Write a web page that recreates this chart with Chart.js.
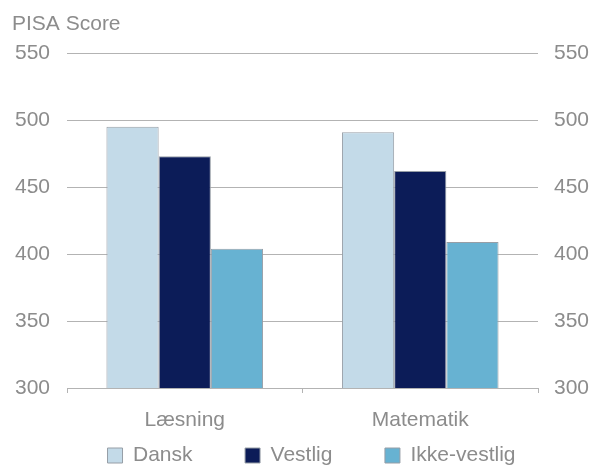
<!DOCTYPE html>
<html>
<head>
<meta charset="utf-8">
<script src="https://cdn.jsdelivr.net/npm/chart.js@4/dist/chart.umd.min.js"></script>
<style>
  html, body { margin: 0; padding: 0; background: #fff; }
  #wrap { width: 592px; height: 466px; }
</style>
</head>
<body>
<div id="wrap"><canvas id="pisaChart"></canvas></div>
<script>
const categories = ['Læsning', 'Matematik']
const dansk = [495, 491]
const vestlig = [473, 462]
const ikkeVestlig = [404, 409]
const tickValues = [300, 350, 400, 450, 500, 550]

const grey = '#8c8c8c'
const lineGrey = '#b3b3b3'
const font = { family: 'Liberation Sans, Arial, sans-serif', size: 21, weight: 'normal' }

// legend spacing done with trailing spaces, the label padding also acts vertically
const gap = '         '

const ctx = document.getElementById('pisaChart').getContext('2d')
const pisaChart = new Chart(ctx, {
    type: 'bar',
    data: {
        labels: categories,
        datasets: [
            { label: 'Dansk', data: dansk, backgroundColor: '#c3dae8', borderColor: '#979ea6', borderWidth: 1 },
            { label: 'Vestlig', data: vestlig, backgroundColor: '#0c1c58', borderColor: '#979ea6', borderWidth: 1 },
            { label: 'Ikke-vestlig', data: ikkeVestlig, backgroundColor: '#67b2d2', borderColor: '#979ea6', borderWidth: 1 }
        ]
    },
    options: {
        responsive: true,
        maintainAspectRatio: false,
        animation: false,
        // right padding negative so the legend row sits a bit right of centre
        layout: { padding: { left: 12, right: -19, top: 0, bottom: -10 } },
        datasets: { bar: { categoryPercentage: 0.665, barPercentage: 1.0 } },
        plugins: {
            title: {
                display: true,
                text: 'PISA Score',
                align: 'start',
                color: grey,
                font: font,
                padding: { top: 12, bottom: 16 }
            },
            legend: {
                position: 'bottom',
                labels: {
                    color: grey,
                    font: font,
                    boxWidth: 15,
                    boxHeight: 15,
                    padding: 0,
                    generateLabels: (chart) => chart.data.datasets.map((ds, i, all) => ({
                        text: ds.label + (i < all.length - 1 ? gap : ''),
                        fillStyle: ds.backgroundColor,
                        strokeStyle: '#979ea6',
                        lineWidth: 1,
                        fontColor: grey,
                        datasetIndex: i
                    }))
                }
            },
            tooltip: { enabled: false }
        },
        scales: {
            x: {
                offset: true,
                afterFit: (axis) => { axis.height = 57 },
                grid: { offset: true, drawOnChartArea: false, drawTicks: true, tickLength: 5, color: lineGrey },
                border: { color: lineGrey },
                ticks: { color: grey, font: font, padding: 15 }
            },
            y: {
                position: 'left',
                min: 300,
                max: 550,
                afterFit: (axis) => { axis.width = 55 },
                afterBuildTicks: (axis) => { axis.ticks = tickValues.map(v => ({ value: v })) },
                grid: { color: lineGrey, drawTicks: false },
                border: { display: false },
                ticks: { color: grey, font: font, padding: 17 }
            },
            y2: {
                position: 'right',
                min: 300,
                max: 550,
                afterFit: (axis) => { axis.width = 73 },
                afterBuildTicks: (axis) => { axis.ticks = tickValues.map(v => ({ value: v })) },
                grid: { drawOnChartArea: false, drawTicks: false },
                border: { display: false },
                ticks: { color: grey, font: font, padding: 16 }
            }
        }
    }
})
</script>
</body>
</html>
